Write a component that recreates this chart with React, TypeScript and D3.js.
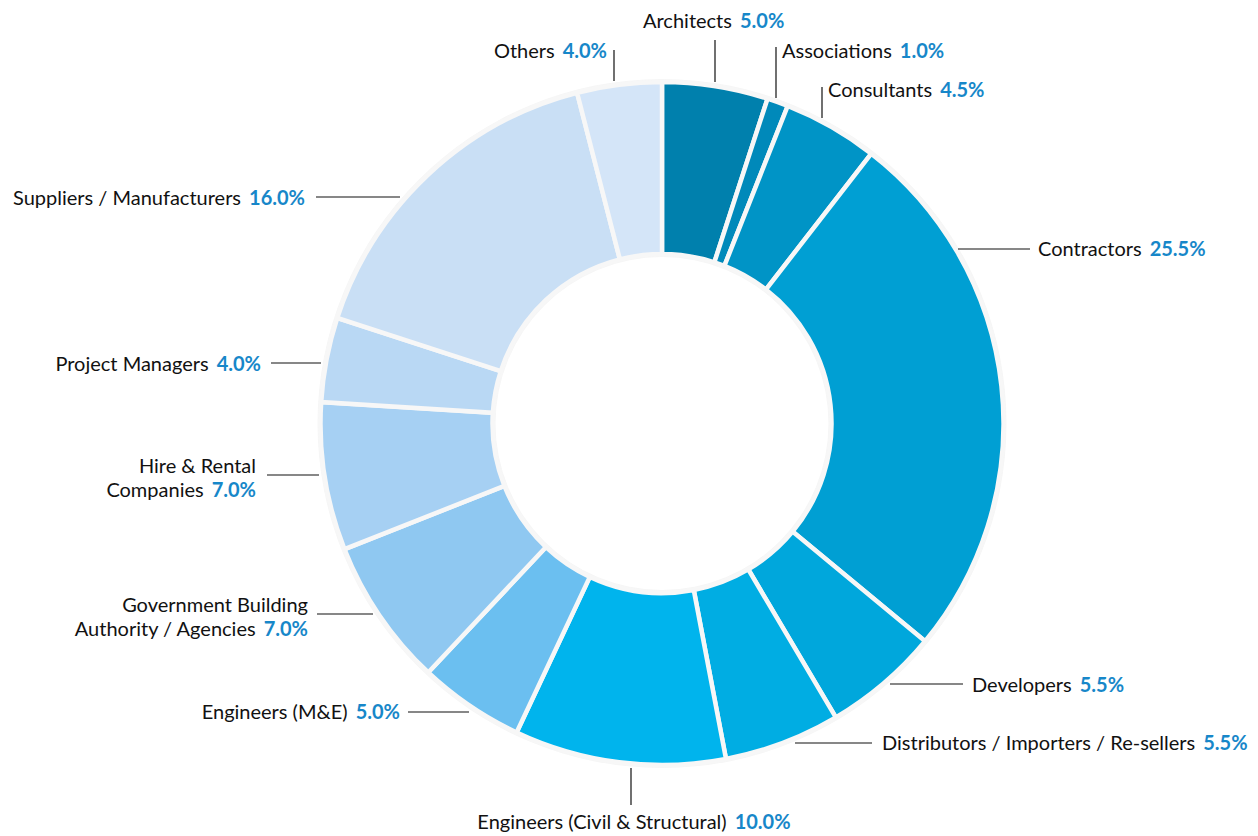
import React from "react";
import * as d3 from "d3";

const categories = [
  "Architects",
  "Associations",
  "Consultants",
  "Contractors",
  "Developers",
  "Distributors / Importers / Re-sellers",
  "Engineers (Civil & Structural)",
  "Engineers (M&E)",
  "Government Building Authority / Agencies",
  "Hire & Rental Companies",
  "Project Managers",
  "Suppliers / Manufacturers",
  "Others",
];
const values = [5.0, 1.0, 4.5, 25.5, 5.5, 5.5, 10.0, 5.0, 7.0, 7.0, 4.0, 16.0, 4.0];
const colors = [
  "#0080ad", "#0089ba", "#0094c6", "#009fd3", "#00a7dc", "#00ade3",
  "#00b4ed", "#6bbff0", "#8fc8f1", "#a6d0f3", "#b9d8f4", "#c9dff5", "#d4e5f8",
];
// label line breaks
const labelLines: string[][] = [
  ["Architects"],
  ["Associations"],
  ["Consultants"],
  ["Contractors"],
  ["Developers"],
  ["Distributors / Importers / Re-sellers"],
  ["Engineers (Civil & Structural)"],
  ["Engineers (M&E)"],
  ["Government Building", "Authority / Agencies"],
  ["Hire & Rental", "Companies"],
  ["Project Managers"],
  ["Suppliers / Manufacturers"],
  ["Others"],
];

// layout of the callouts: leader line and text anchor
const layout = [
  { l: [715, 40, 715, 82], x: 643, y: 28, a: "start" },
  { l: [776, 47, 776, 98], x: 782, y: 58, a: "start" },
  { l: [822, 87, 822, 118], x: 828, y: 97, a: "start" },
  { l: [958, 249, 1030, 249], x: 1038, y: 256, a: "start" },
  { l: [890, 684, 963, 684], x: 972, y: 692, a: "start" },
  { l: [795, 743, 872, 743], x: 882, y: 750, a: "start" },
  { l: [631, 768, 631, 805], x: 634, y: 829, a: "middle" },
  { l: [408, 712, 469, 712], x: 400, y: 719, a: "end" },
  { l: [317, 614, 373, 614], x: 308, y: 612, a: "end" },
  { l: [267, 475, 319, 475], x: 256, y: 473, a: "end" },
  { l: [271, 363, 321, 363], x: 261, y: 371, a: "end" },
  { l: [316, 197, 400, 197], x: 305, y: 205, a: "end" },
  { l: [614, 50, 614, 81], x: 607, y: 58, a: "end" },
];

const W = 1258;
const H = 836;
const cx = 662;
const cy = 423.5;
const outerR = 341.5;
const innerR = 169.5;

export default function App() {
  const pie = d3.pie<number>().sort(null).value((d) => d)(values);
  const arc = d3.arc<d3.PieArcDatum<number>>().innerRadius(innerR).outerRadius(outerR);
  const ring = d3.arc()({
    innerRadius: innerR - 3,
    outerRadius: outerR + 3,
    startAngle: 0,
    endAngle: Math.PI * 2,
  } as any) as string;
  const font = "Lato, 'Open Sans', sans-serif";
  return (
    <svg
      width={W}
      height={H}
      style={{ position: "absolute", left: 0, top: 0, background: "#fff" }}
    >
      <g transform={`translate(${cx},${cy})`}>
        <path d={ring} fill="#f6f6f6" />
        {pie.map((p, i) => (
          <path
            key={i}
            d={arc(p) as string}
            fill={colors[i]}
            stroke="#f7f7f7"
            strokeWidth={4.5}
            strokeLinejoin="miter"
          />
        ))}
      </g>
      {layout.map((L, i) => (
        <line
          key={"l" + i}
          x1={L.l[0]}
          y1={L.l[1]}
          x2={L.l[2]}
          y2={L.l[3]}
          stroke="#111"
          strokeWidth={1.2}
        />
      ))}
      {layout.map((L, i) => {
        const lines = labelLines[i];
        return (
          <text
            key={"t" + i}
            x={L.x}
            y={L.y}
            textAnchor={L.a as any}
            fontFamily={font}
            fontSize={20}
            fill="#111"
          >
            {lines.map((ln, j) => (
              <tspan key={j} x={L.x} dy={j === 0 ? 0 : 24}>
                {ln}
                {j === lines.length - 1 ? (
                  <tspan dx={8} fontWeight="bold" fill="#1787c9">
                    {values[i].toFixed(1) + "%"}
                  </tspan>
                ) : null}
              </tspan>
            ))}
          </text>
        );
      })}
    </svg>
  );
}
